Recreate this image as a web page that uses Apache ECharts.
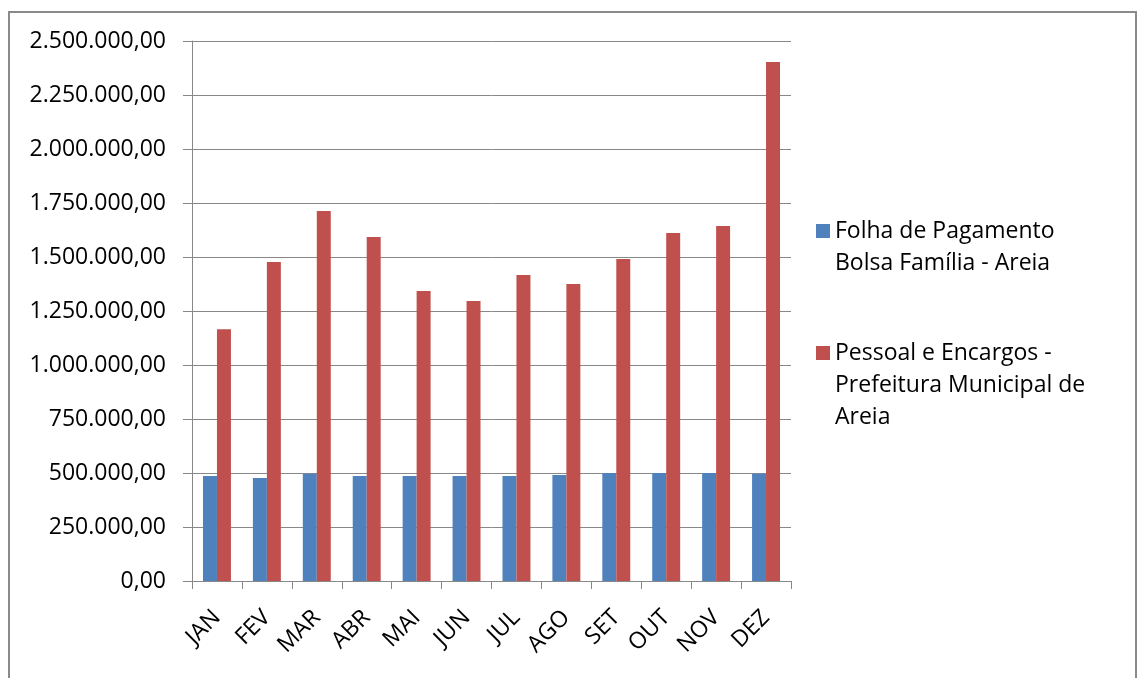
<!DOCTYPE html>
<html>
<head>
<meta charset="utf-8">
<script src="https://cdn.jsdelivr.net/npm/echarts@6/dist/echarts.min.js"></script>
<style>
  html, body { margin: 0; padding: 0; background: #fff; }
  #chart { width: 1138px; height: 678px; }
</style>
</head>
<body>
<div id="chart"></div>
<script>
// Monthly categories
const months = ['JAN', 'FEV', 'MAR', 'ABR', 'MAI', 'JUN', 'JUL', 'AGO', 'SET', 'OUT', 'NOV', 'DEZ'];

// Series names
const nameBolsa = 'Folha de Pagamento\nBolsa Família - Areia';
const namePessoal = 'Pessoal e Encargos -\nPrefeitura Municipal de\nAreia';

// Values (R$)
const bolsaFamilia = [486000, 477000, 497000, 486000, 486000, 486000, 486000, 491000, 500000, 500000, 500000, 497000];
const pessoalEncargos = [1166000, 1477000, 1713000, 1593000, 1343000, 1296000, 1417000, 1375000, 1491000, 1611000, 1644000, 2403000];

// Value axis range
const yMin = 0;
const yMax = 2500000;
const yStep = 250000;

// Brazilian number format: 2.500.000,00
function fmtBR(v) {
  const parts = Math.abs(v).toFixed(2).split('.');
  const intPart = parts[0].replace(/\B(?=(\d{3})+(?!\d))/g, '.');
  return (v < 0 ? '-' : '') + intPart + ',' + parts[1];
}

// Legend labels are vertically centred on the swatch; pad with leading
// blank lines so the swatch sits beside the first line of a wrapped name.
function topAligned(name) {
  const lines = name.split('\n').length;
  return '\n'.repeat(lines - 1) + name;
}

const FONT = '"Open Sans", "DejaVu Sans", sans-serif';
const GRID_COLOR = '#888888';
const LINE_H = 32;
const FONT_SIZE = 23;

const chart = echarts.init(document.getElementById('chart'), null, { renderer: 'canvas' });

const legendText = {
  fontFamily: FONT, fontSize: FONT_SIZE, color: '#000', lineHeight: LINE_H
};

chart.setOption({
  animation: false,
  backgroundColor: '#ffffff',
  graphic: [{
    type: 'rect',
    shape: { x: 9, y: 12, width: 1127, height: 700 },
    style: { fill: 'none', stroke: '#8a8a8a', lineWidth: 2 },
    silent: true
  }],
  grid: { left: 192, top: 41, right: 347, bottom: 97, containLabel: false },
  legend: [
    {
      orient: 'vertical',
      left: 816,
      top: 183,
      padding: 0,
      itemWidth: 14,
      itemHeight: 14,
      icon: 'rect',
      data: [nameBolsa],
      formatter: topAligned,
      textStyle: legendText
    },
    {
      orient: 'vertical',
      left: 816,
      top: 273,
      padding: 0,
      itemWidth: 14,
      itemHeight: 14,
      icon: 'rect',
      data: [namePessoal],
      formatter: topAligned,
      textStyle: legendText
    }
  ],
  xAxis: {
    type: 'category',
    data: months,
    boundaryGap: true,
    axisLine: { show: true, lineStyle: { color: GRID_COLOR, width: 1 } },
    axisTick: { show: true, length: 8, lineStyle: { color: GRID_COLOR } },
    axisLabel: {
      rotate: 45, margin: 33, interval: 0,
      fontFamily: FONT, fontSize: FONT_SIZE, color: '#000'
    },
    splitLine: { show: false }
  },
  yAxis: {
    type: 'value',
    min: yMin,
    max: yMax,
    interval: yStep,
    axisLine: { show: true, lineStyle: { color: GRID_COLOR, width: 1 } },
    axisTick: { show: true, inside: false, length: 9, lineStyle: { color: GRID_COLOR } },
    axisLabel: {
      margin: 26, formatter: fmtBR,
      fontFamily: FONT, fontSize: FONT_SIZE, color: '#000'
    },
    splitLine: { show: true, lineStyle: { color: GRID_COLOR, width: 1 } }
  },
  series: [
    {
      name: nameBolsa,
      type: 'bar',
      data: bolsaFamilia,
      itemStyle: { color: '#4f81bd' },
      barGap: '0%',
      barCategoryGap: '44%'
    },
    {
      name: namePessoal,
      type: 'bar',
      data: pessoalEncargos,
      itemStyle: { color: '#c0504d' },
      barGap: '0%',
      barCategoryGap: '44%'
    }
  ]
});
</script>
</body>
</html>
